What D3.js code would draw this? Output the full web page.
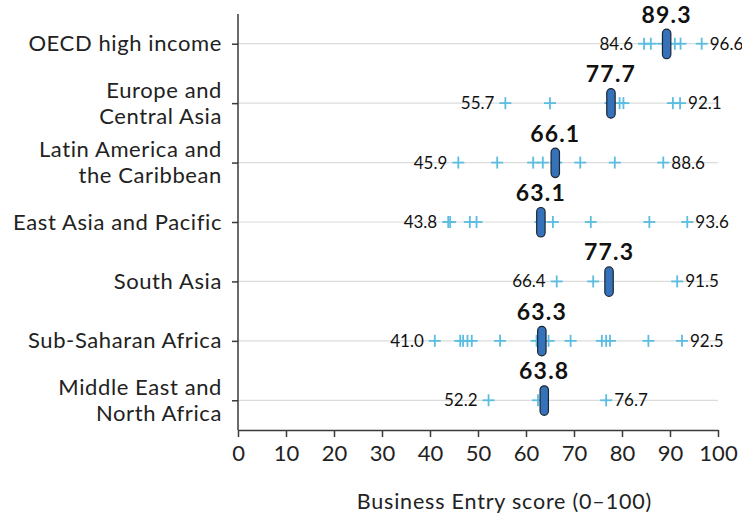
<!DOCTYPE html>
<html>
<head>
<meta charset="utf-8">
<script src="https://cdn.jsdelivr.net/npm/d3@7/dist/d3.min.js"></script>
<style>
  html, body { margin: 0; padding: 0; background: #fff; }
  svg { display: block; font-family: Lato, "Noto Sans", sans-serif; }
</style>
</head>
<body>
<svg id="chart" width="742" height="519"></svg>
<script>
// Regions, top to bottom
const regions = [
  "OECD high income",
  "Europe and\nCentral Asia",
  "Latin America and\nthe Caribbean",
  "East Asia and Pacific",
  "South Asia",
  "Sub-Saharan Africa",
  "Middle East and\nNorth Africa"
];

// Regional average Business Entry score
const regionMeans = [89.3, 77.7, 66.1, 63.1, 77.3, 63.3, 63.8];

// Individual economy scores per region (sorted, first = min, last = max)
const oecdScores  = [84.6, 86.0, 88.6, 91.0, 92.2, 96.6];
const ecaScores   = [55.7, 65.0, 77.6, 79.5, 80.3, 90.6, 92.1];
const lacScores   = [45.9, 54.0, 61.5, 63.5, 66.3, 71.3, 78.5, 88.6];
const eapScores   = [43.8, 44.2, 48.3, 49.7, 63.0, 65.6, 73.5, 85.7, 93.6];
const saScores    = [66.4, 74.0, 91.5];
const ssaScores   = [41.0, 46.3, 46.9, 47.8, 48.7, 54.6, 62.2, 64.7, 69.3, 75.8, 76.7, 77.5, 85.5, 92.5];
const menaScores  = [52.2, 62.5, 76.7];
const economyScores = [oecdScores, ecaScores, lacScores, eapScores, saScores, ssaScores, menaScores];

const xTicks = [0, 10, 20, 30, 40, 50, 60, 70, 80, 90, 100];
const xTitle = "Business Entry score (0\u2013100)";

const svg = d3.select("#chart");
const margin = { top: 14, right: 24, bottom: 89, left: 238 };
const W = +svg.attr("width"), H = +svg.attr("height");

const x = d3.scaleLinear().domain([0, 100]).range([margin.left, W - margin.right]);
const y = d3.scalePoint().domain(regions).range([margin.top, H - margin.bottom]).padding(0.5);

const axisColor = "#3a3a3a";
const markerColor = "#5bbde0";

// Row guide lines
svg.append("g").selectAll("line")
  .data(regions).join("line")
  .attr("x1", x(0)).attr("x2", x(100))
  .attr("y1", d => y(d)).attr("y2", d => y(d))
  .attr("stroke", "#dcdcdc").attr("stroke-width", 1.2);

// X axis
const xAxis = svg.append("g")
  .attr("transform", `translate(0,${H - margin.bottom})`)
  .call(d3.axisBottom(x).tickValues(xTicks).tickSize(7).tickPadding(8).tickSizeOuter(0));
xAxis.select(".domain").attr("stroke", axisColor).attr("stroke-width", 1.5);
xAxis.selectAll(".tick line").attr("stroke", axisColor).attr("stroke-width", 1.5);
xAxis.selectAll(".tick text").attr("fill", "#222").style("font-size", "22px").style("font-family", "Lato, sans-serif");

// Y axis with multi-line labels
const yAxis = svg.append("g")
  .attr("transform", `translate(${margin.left},0)`)
  .call(d3.axisLeft(y).tickSize(6).tickPadding(10).tickSizeOuter(0).tickFormat(""));
yAxis.select(".domain").attr("stroke", axisColor).attr("stroke-width", 1.5)
  .attr("d", `M0,${margin.top}V${H - margin.bottom}`);
yAxis.selectAll(".tick line").attr("stroke", axisColor).attr("stroke-width", 1.5);
yAxis.selectAll(".tick").each(function(d) {
  const lines = d.split("\n");
  const t = d3.select(this).select("text")
    .attr("fill", "#222").attr("x", -16).attr("dy", null)
    .style("font-size", "22px").style("letter-spacing", "0.6px")
    .style("font-family", "Lato, sans-serif")
    .attr("text-anchor", "end");
  const lh = 26;
  const start = -(lines.length - 1) * lh / 2 + 7;
  lines.forEach((ln, i) => {
    t.append("tspan").attr("x", -16).attr("y", start + i * lh).text(ln);
  });
});

// Economy markers (+)
const rows = svg.append("g").selectAll("g")
  .data(regions.map((r, i) => ({ region: r, mean: regionMeans[i], scores: economyScores[i] })))
  .join("g")
  .attr("transform", d => `translate(0,${y(d.region)})`);

const half = 6;
rows.each(function(d) {
  const g = d3.select(this);
  const pts = g.selectAll("g.pt").data(d.scores).join("g").attr("class", "pt")
    .attr("transform", v => `translate(${x(v)},0)`);
  pts.append("line").attr("x1", -half).attr("x2", half).attr("y1", 0).attr("y2", 0)
    .attr("stroke", markerColor).attr("stroke-width", 1.8);
  pts.append("line").attr("x1", 0).attr("x2", 0).attr("y1", -half).attr("y2", half)
    .attr("stroke", markerColor).attr("stroke-width", 1.8);

  // Min / max labels
  const mn = d.scores[0], mx = d.scores[d.scores.length - 1];
  g.append("text").attr("x", x(mn) - 11).attr("y", 6)
    .attr("text-anchor", "end").style("font-size", "17px").attr("fill", "#111")
    .text(d3.format(".1f")(mn));
  g.append("text").attr("x", x(mx) + 8).attr("y", 6)
    .attr("text-anchor", "start").style("font-size", "17px").attr("fill", "#111")
    .text(d3.format(".1f")(mx));

  // Regional average pill
  g.append("rect")
    .attr("x", x(d.mean) - 4.2).attr("y", -14.5)
    .attr("width", 8.4).attr("height", 29.5)
    .attr("rx", 4.2).attr("ry", 4.2)
    .attr("fill", "#3572b9").attr("stroke", "#1c2533").attr("stroke-width", 1.2);

  g.append("text").attr("x", x(d.mean)).attr("y", -21)
    .attr("text-anchor", "middle").style("font-size", "23px").style("font-weight", 700)
    .style("letter-spacing", "1.2px")
    .attr("fill", "#111").text(d3.format(".1f")(d.mean));
});

// X axis title, centred a little right of the plot centre
svg.append("text")
  .attr("x", x(55.5)).attr("y", 509)
  .attr("text-anchor", "middle").style("font-size", "21.5px").style("letter-spacing", "0.8px")
  .attr("fill", "#222")
  .text(xTitle);
</script>
</body>
</html>
